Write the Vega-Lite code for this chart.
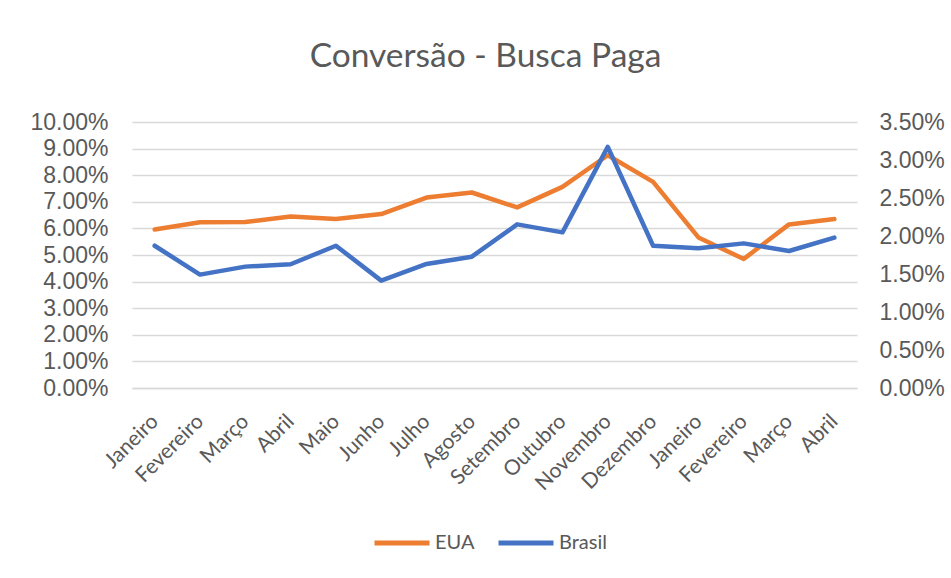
{
  "$schema": "https://vega.github.io/schema/vega-lite/v6.json",
  "autosize": {"type": "none"},
  "padding": {"left": 132, "top": 122, "right": 94, "bottom": 190},
  "width": 725,
  "height": 266,
  "background": "white",
  "title": {
    "text": "Conversão - Busca Paga",
    "font": "Lato",
    "fontSize": 33.5,
    "fontWeight": "normal",
    "color": "#595959",
    "anchor": "middle",
    "baseline": "alphabetic",
    "offset": 11,
    "dx": -9
  },
  "data": {
    "values": [
      {"periodo": "Janeiro 1", "EUA": 0.0596, "Brasil": 0.01872},
      {"periodo": "Fevereiro 1", "EUA": 0.0623, "Brasil": 0.01492},
      {"periodo": "Março 1", "EUA": 0.0624, "Brasil": 0.01597},
      {"periodo": "Abril 1", "EUA": 0.0645, "Brasil": 0.01628},
      {"periodo": "Maio 1", "EUA": 0.0635, "Brasil": 0.01872},
      {"periodo": "Junho 1", "EUA": 0.0654, "Brasil": 0.01413},
      {"periodo": "Julho 1", "EUA": 0.0716, "Brasil": 0.01632},
      {"periodo": "Agosto 1", "EUA": 0.0735, "Brasil": 0.01728},
      {"periodo": "Setembro 1", "EUA": 0.0679, "Brasil": 0.02153},
      {"periodo": "Outubro 1", "EUA": 0.0756, "Brasil": 0.02048},
      {"periodo": "Novembro 1", "EUA": 0.0875, "Brasil": 0.03172},
      {"periodo": "Dezembro 1", "EUA": 0.0775, "Brasil": 0.01872},
      {"periodo": "Janeiro 2", "EUA": 0.0566, "Brasil": 0.01838},
      {"periodo": "Fevereiro 2", "EUA": 0.0485, "Brasil": 0.01903},
      {"periodo": "Março 2", "EUA": 0.0615, "Brasil": 0.01803},
      {"periodo": "Abril 2", "EUA": 0.0635, "Brasil": 0.01978}
    ]
  },
  "encoding": {
    "x": {
      "field": "periodo",
      "type": "ordinal",
      "sort": null,
      "scale": {"type": "point", "padding": 0.5},
      "axis": {
        "title": null,
        "labelExpr": "split(datum.value, ' ')[0]",
        "labelAngle": -45,
        "labelAlign": "right",
        "labelBaseline": "middle",
        "labelFont": "Lato",
        "labelFontSize": 21,
        "labelColor": "#595959",
        "labelPadding": 30,
        "ticks": false,
        "tickSize": 0,
        "domain": true,
        "domainColor": "#D9D9D9",
        "domainWidth": 1.3,
        "grid": false
      }
    }
  },
  "layer": [
    {
      "mark": {"type": "line", "strokeWidth": 4.5, "strokeJoin": "round", "strokeCap": "round"},
      "encoding": {
        "y": {
          "field": "EUA",
          "type": "quantitative",
          "scale": {"domain": [0, 0.1], "nice": false, "zero": true},
          "axis": {
            "title": null,
            "orient": "left",
            "format": ".2%",
            "values": [0, 0.01, 0.02, 0.03, 0.04, 0.05, 0.06, 0.07, 0.08, 0.09, 0.1],
            "grid": true,
            "gridColor": "#D9D9D9",
            "gridWidth": 1.3,
            "domain": false,
            "ticks": false,
            "tickSize": 0,
            "labelPadding": 24,
            "labelFont": "Liberation Sans",
            "labelFontSize": 23,
            "labelColor": "#595959"
          }
        },
        "color": {"datum": "EUA"}
      }
    },
    {
      "mark": {"type": "line", "strokeWidth": 4.5, "strokeJoin": "round", "strokeCap": "round"},
      "encoding": {
        "y": {
          "field": "Brasil",
          "type": "quantitative",
          "scale": {"domain": [0, 0.035], "nice": false, "zero": true},
          "axis": {
            "title": null,
            "orient": "right",
            "format": ".2%",
            "values": [0, 0.005, 0.01, 0.015, 0.02, 0.025, 0.03, 0.035],
            "grid": false,
            "domain": false,
            "ticks": false,
            "tickSize": 0,
            "labelPadding": 22,
            "labelFont": "Liberation Sans",
            "labelFontSize": 23,
            "labelColor": "#595959"
          }
        },
        "color": {"datum": "Brasil"}
      }
    }
  ],
  "resolve": {"scale": {"y": "independent"}},
  "config": {
    "view": {"stroke": null},
    "range": {"category": ["#ED7D31", "#4472C4"]},
    "legend": {
      "orient": "none",
      "legendX": 240,
      "legendY": 391,
      "direction": "horizontal",
      "title": null,
      "symbolType": "stroke",
      "symbolSize": 3025,
      "symbolStrokeWidth": 5,
      "labelFont": "Lato",
      "labelFontSize": 20,
      "labelColor": "#595959",
      "labelOffset": 3,
      "columnPadding": 13
    }
  }
}
